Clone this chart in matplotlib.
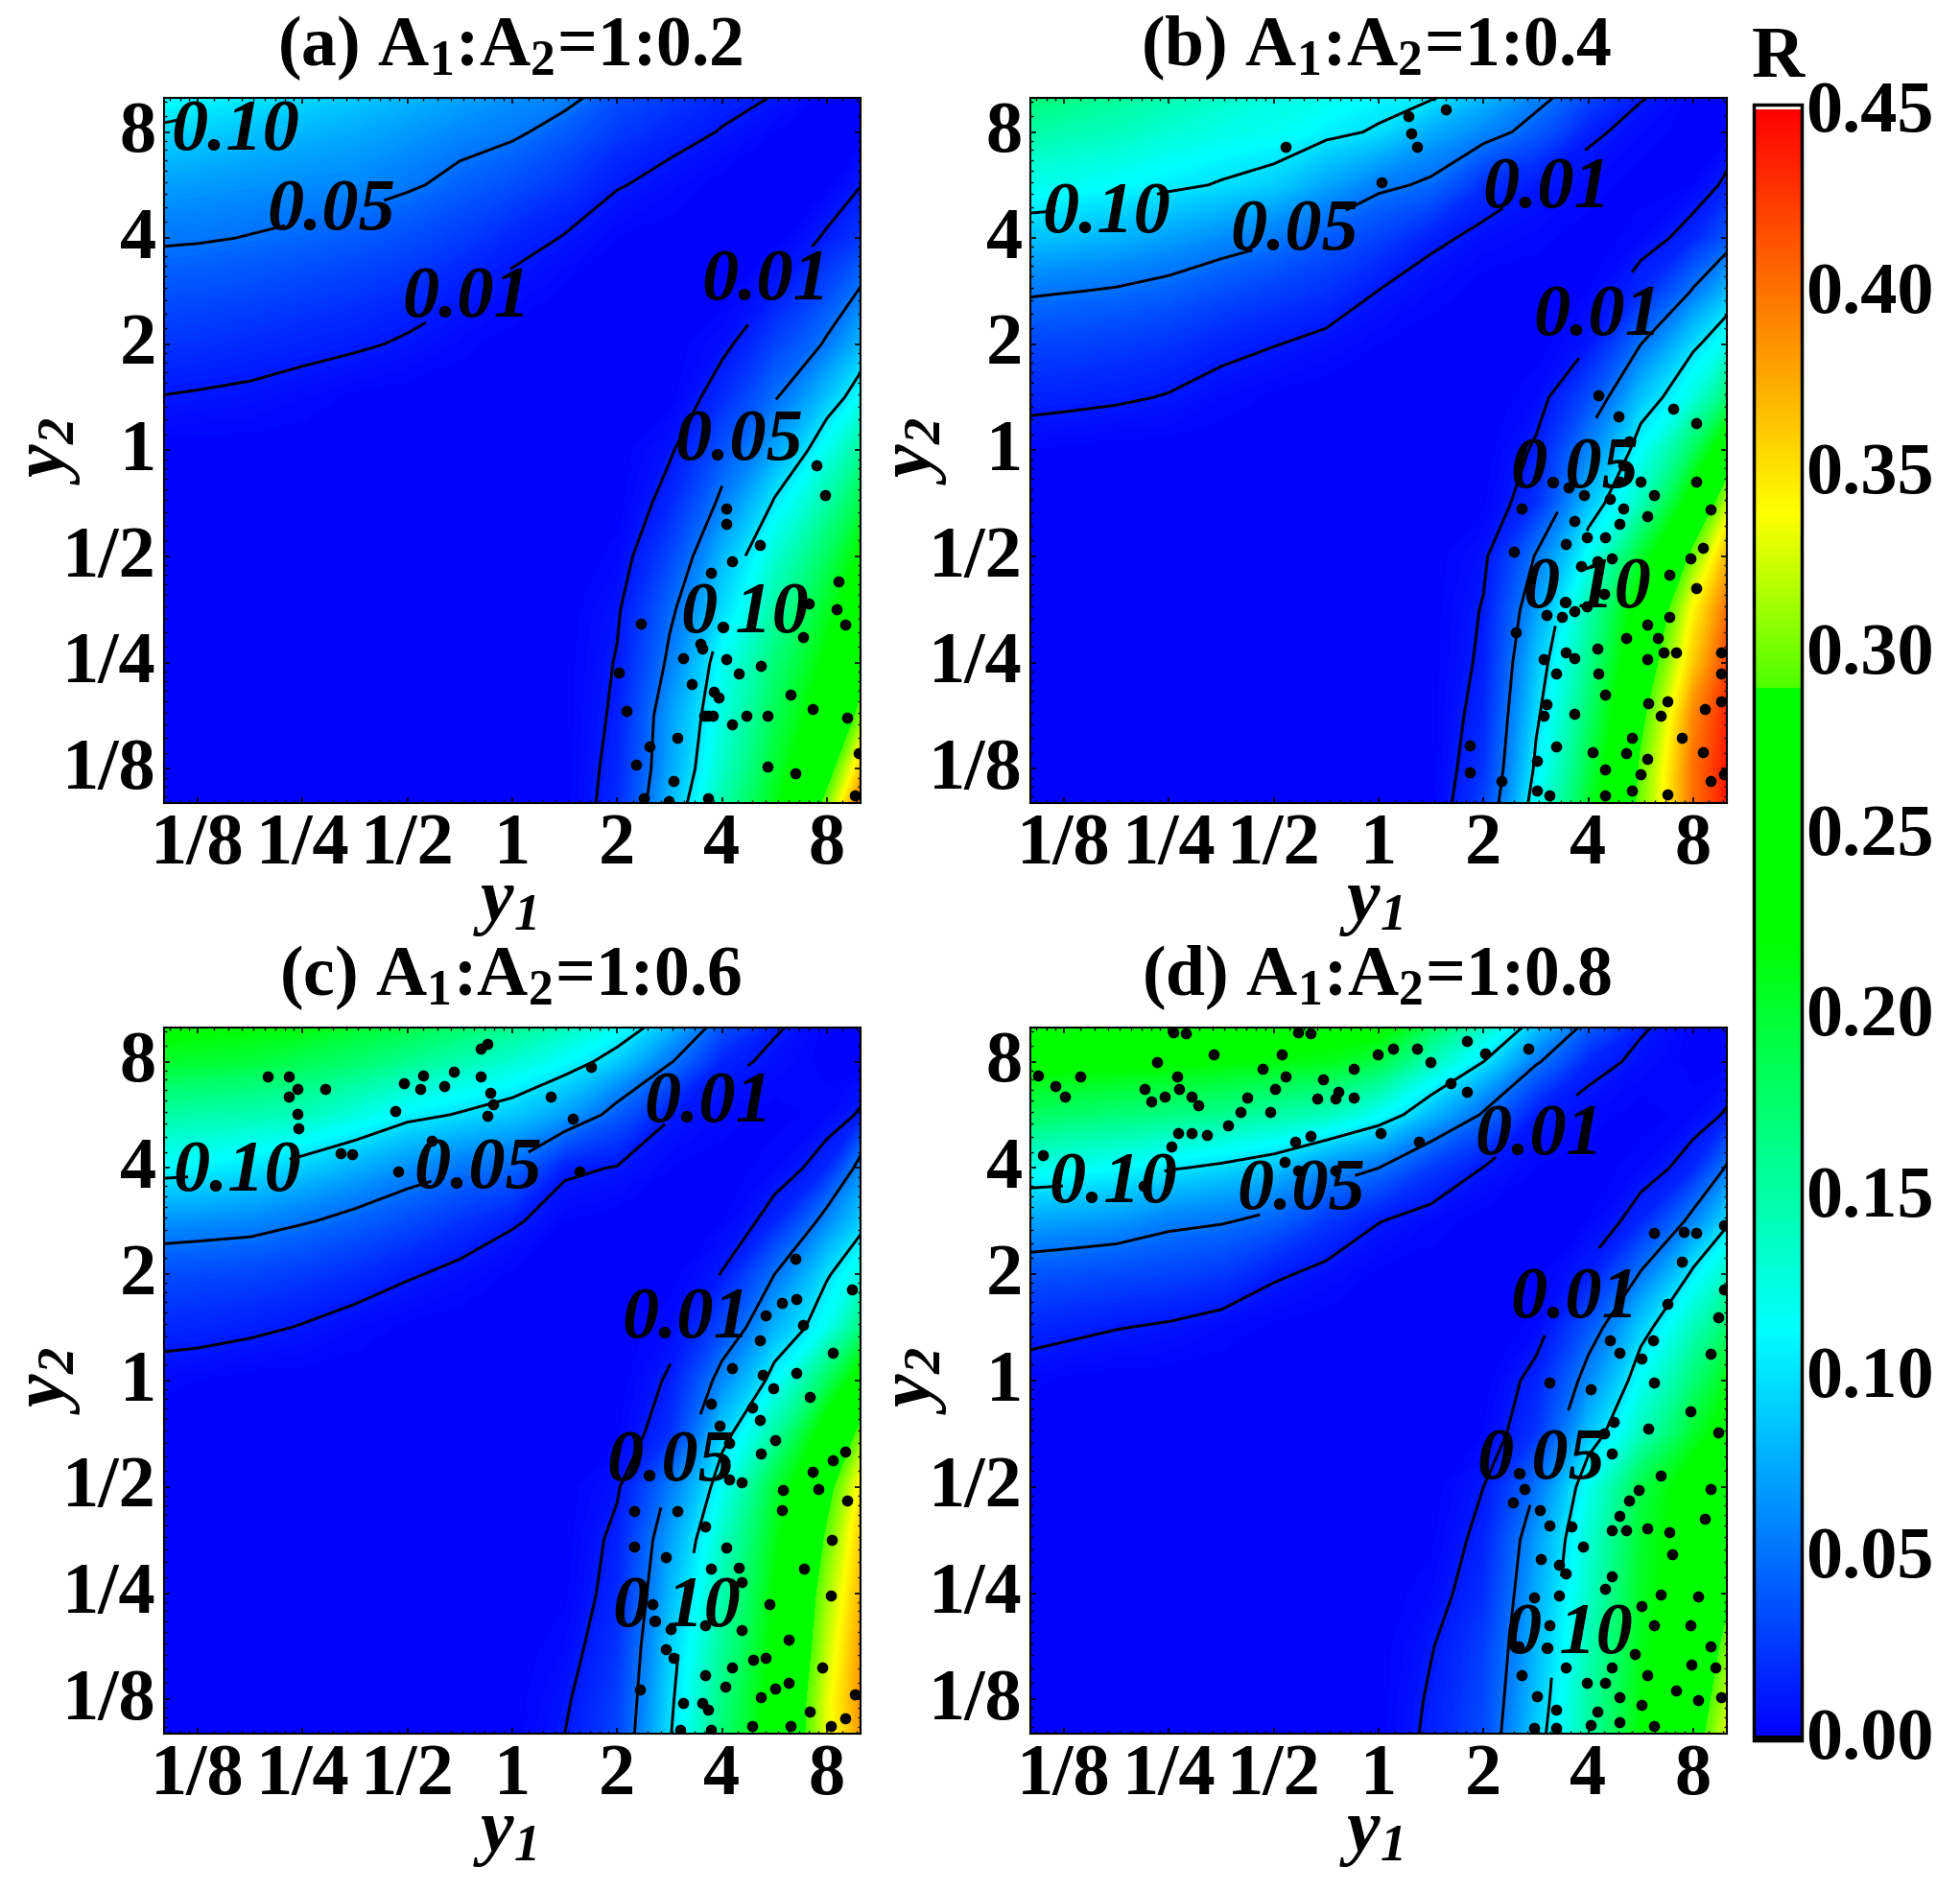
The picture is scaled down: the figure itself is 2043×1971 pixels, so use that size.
import numpy as np
import matplotlib
matplotlib.use('Agg')
import matplotlib.pyplot as plt
from matplotlib.colors import LinearSegmentedColormap, Normalize
from matplotlib.cm import ScalarMappable
from matplotlib.ticker import FixedLocator, FixedFormatter
from matplotlib.transforms import ScaledTranslation

plt.rcParams['font.family'] = ['Liberation Serif', 'DejaVu Serif']
plt.rcParams['font.weight'] = 'bold'
plt.rcParams['mathtext.default'] = 'regular'

# grid nodes (half octaves), same for y1 and y2
nodes = [0.1, 0.125, 0.177, 0.25, 0.354, 0.5, 0.707, 1, 1.414, 2, 2.83, 4, 5.66, 8, 10]

tick_vals = [1/8, 1/4, 1/2, 1, 2, 4, 8]
tick_text = ['1/8', '1/4', '1/2', '1', '2', '4', '8']
titles = ['(a) A$_1$:A$_2$=1:0.2', '(b) A$_1$:A$_2$=1:0.4', '(c) A$_1$:A$_2$=1:0.6', '(d) A$_1$:A$_2$=1:0.8']
levels = [0.01, 0.05, 0.10]

# R, rows go from y2=0.1 up to y2=10
R_a = [
 [0,0,0,0,0,0,0,0,0,.018,.08,.147,.21,.30,.40],
 [0,0,0,0,0,0,0,0,0,.016,.072,.135,.2,.27,.36],
 [0,0,0,0,0,0,0,0,0,.013,.069,.124,.185,.245,.30],
 [0,0,0,0,0,0,0,0,0,.011,.055,.116,.17,.225,.27],
 [0,0,0,0,0,0,0,0,0,.008,.045,.095,.15,.205,.25],
 [0,0,0,0,0,0,0,0,0,.003,.03,.08,.13,.18,.225],
 [0,0,0,0,0,0,0,0,0,0,.016,.056,.103,.15,.19],
 [0,0,0,0,0,0,0,0,0,0,.008,.035,.072,.119,.155],
 [.0095,.0085,.007,.004,.001,0,0,0,0,0,0,.018,.048,.085,.115],
 [.022,.021,.018,.015,.012,.008,.003,0,0,0,0,.006,.028,.053,.08],
 [.036,.035,.032,.028,.024,.019,.012,.006,.001,0,0,0,.01,.032,.052],
 [.053,.052,.049,.045,.04,.034,.026,.016,.009,.002,0,0,0,.012,.024],
 [.07,.068,.065,.062,.06,.053,.043,.034,.023,.011,.005,0,0,0,.0095],
 [.095,.092,.085,.08,.075,.068,.06,.054,.04,.025,.016,.009,.002,0,0],
 [.115,.11,.102,.095,.088,.08,.072,.064,.057,.035,.025,.016,.009,0,0],
]
R_b = [
 [0,0,0,0,0,0,0,0,0,.028,.115,.2,.3,.40,.44],
 [0,0,0,0,0,0,0,0,0,.022,.105,.19,.295,.40,.44],
 [0,0,0,0,0,0,0,0,0,.017,.095,.175,.28,.39,.435],
 [0,0,0,0,0,0,0,0,0,.013,.085,.16,.26,.36,.42],
 [0,0,0,0,0,0,0,0,0,.011,.07,.145,.24,.34,.40],
 [0,0,0,0,0,0,0,0,0,.007,.052,.115,.2,.30,.37],
 [0,0,0,0,0,0,0,0,0,.001,.02,.085,.14,.24,.32],
 [.002,.001,0,0,0,0,0,0,0,0,.012,.058,.113,.18,.25],
 [.015,.014,.012,.009,.004,.001,0,0,0,0,.004,.032,.085,.125,.17],
 [.03,.029,.026,.022,.015,.0105,.006,.002,0,0,0,.009,.05,.095,.12],
 [.053,.051,.048,.043,.034,.027,.021,.0097,.004,0,0,.002,.017,.052,.08],
 [.085,.083,.078,.07,.062,.053,.04,.028,.013,.006,.003,0,.004,.016,.037],
 [.12,.118,.112,.105,.098,.09,.072,.055,.046,.02,.01,.004,0,.002,.013],
 [.15,.145,.14,.13,.122,.118,.106,.097,.075,.06,.04,.013,.004,0,0],
 [.17,.165,.155,.145,.135,.125,.12,.11,.102,.08,.058,.03,.011,0,0],
]
R_c = [
 [0,0,0,0,0,0,0,0,.01,.03,.098,.17,.24,.33,.38],
 [0,0,0,0,0,0,0,0,.008,.027,.095,.165,.235,.33,.385],
 [0,0,0,0,0,0,0,0,.004,.022,.09,.155,.225,.32,.38],
 [0,0,0,0,0,0,0,0,.001,.017,.08,.145,.22,.31,.37],
 [0,0,0,0,0,0,0,0,0,.014,.07,.135,.21,.295,.36],
 [0,0,0,0,0,0,0,0,0,.008,.053,.115,.195,.275,.345],
 [0,0,0,0,0,0,0,0,0,.001,.02,.09,.15,.24,.30],
 [.003,.002,0,0,0,0,0,0,0,0,.012,.06,.11,.18,.24],
 [.017,.016,.013,.009,.004,.001,0,0,0,0,.004,.03,.078,.118,.165],
 [.033,.032,.03,.025,.019,.0115,.006,.001,0,0,0,.0105,.05,.097,.125],
 [.065,.063,.06,.052,.043,.033,.022,.012,.002,0,0,.002,.015,.06,.09],
 [.11,.108,.10,.09,.077,.063,.052,.045,.013,.009,.002,0,.004,.016,.06],
 [.15,.148,.145,.14,.125,.107,.098,.088,.07,.04,.011,.004,0,.004,.0115],
 [.2,.2,.195,.185,.175,.16,.145,.13,.112,.088,.052,.015,.006,0,0],
 [.23,.225,.22,.215,.2,.19,.175,.16,.14,.118,.08,.035,.012,0,0],
]
R_d = [
 [0,0,0,0,0,0,0,0,.0135,.033,.09,.15,.22,.27,.33],
 [0,0,0,0,0,0,0,0,.012,.031,.085,.15,.215,.26,.32],
 [0,0,0,0,0,0,0,0,.009,.027,.08,.143,.21,.255,.30],
 [0,0,0,0,0,0,0,0,.004,.02,.075,.135,.205,.25,.28],
 [0,0,0,0,0,0,0,0,.001,.015,.068,.13,.2,.25,.27],
 [0,0,0,0,0,0,0,0,0,.01,.05,.118,.19,.24,.26],
 [0,0,0,0,0,0,0,0,0,.002,.022,.085,.14,.2,.235],
 [.003,.001,0,0,0,0,0,0,0,0,.015,.06,.115,.17,.21],
 [.016,.014,.0105,.008,.004,.001,0,0,0,0,.003,.037,.09,.14,.175],
 [.037,.035,.032,.029,.024,.012,.006,.001,0,0,0,.012,.052,.105,.135],
 [.072,.07,.066,.056,.052,.043,.024,.0105,.004,0,0,.002,.016,.058,.095],
 [.12,.118,.112,.102,.095,.085,.063,.05,.025,.0095,.002,0,.004,.016,.053],
 [.18,.175,.17,.165,.16,.15,.14,.115,.08,.047,.012,.004,0,.004,.0115],
 [.23,.23,.23,.225,.22,.215,.21,.19,.14,.1,.053,.016,.006,0,0],
 [.25,.25,.25,.245,.245,.24,.235,.23,.18,.135,.085,.04,.012,0,0],
]

# contour label places as (level, log2 y1, log2 y2)
labels_a = [(.10,-2.64,3.05),(.05,-1.73,2.3),(.01,-.44,1.47),(.01,2.42,1.64),(.05,2.16,.13),(.10,2.22,-1.5)]
labels_b = [(.10,-2.6,2.27),(.05,-.8,2.11),(.01,1.6,2.5),(.01,2.09,1.3),(.05,1.87,-.14),(.10,1.99,-1.27)]
labels_c = [(.10,-2.62,2.0),(.05,-.33,2.03),(.01,1.87,2.65),(.01,1.66,.62),(.05,1.51,-.73),(.10,1.57,-2.1)]
labels_d = [(.10,-2.53,1.89),(.05,-.74,1.83),(.01,1.53,2.34),(.01,1.87,.81),(.05,1.55,-.71),(.10,1.81,-2.35)]

# small closed contours, (log2 y1, log2 y2)
blobs_a = [(2.90,-.14),(2.98,-.42),(2.04,-.55),(2.04,-.69),(2.36,-.89),(2.10,-1.04),(1.89,-1.15),(3.11,-1.23),
 (2.83,-1.44),(3.09,-1.50),(3.18,-1.64),(1.23,-1.63),(2.77,-1.76),(1.81,-1.87),(1.79,-1.82),(1.63,-1.96),
 (2.04,-1.97),(2.16,-2.10),(2.37,-2.03),(1.71,-2.20),(1.92,-2.27),(1.97,-2.33),(2.65,-2.30),(1.87,-2.50),
 (1.83,-2.50),(1.91,-2.50),(2.23,-2.50),(2.10,-2.58),(2.43,-2.50),(2.86,-2.44),(3.19,-2.52),(1.09,-2.45),
 (1.02,-2.09),(1.57,-2.71),(1.31,-2.79),(1.18,-2.96),(2.43,-2.98),(2.70,-3.04),(1.54,-3.11),(1.87,-3.28),
 (1.25,-3.28),(1.49,-3.30),(3.27,-3.25),(3.30,-2.85)]
blobs_b = [(-.89,2.86),(.28,3.15),(.31,2.99),(.37,2.86),(.64,3.21),(.03,2.53),(2.10,.52),(2.29,.32),(2.81,.39),
 (3.03,.26),(2.39,.09),(2.33,-.14),(2.30,-.29),(2.50,-.29),(2.63,-.42),(1.81,-.35),(1.96,-.42),(2.21,-.46),
 (2.33,-.55),(2.30,-.69),(2.56,-.62),(3.03,-.29),(3.17,-.56),(1.87,-.66),(1.36,-.55),(1.78,-.88),(1.99,-.82),
 (2.16,-.82),(1.29,-.95),(3.09,-.92),(1.93,-1.09),(2.09,-1.04),(2.22,-1.02),(2.97,-1.02),(2.77,-1.17),
 (3.03,-1.30),(2.15,-1.35),(1.60,-1.55),(1.75,-1.57),(1.87,-1.51),(1.99,-1.47),(2.56,-1.64),(2.77,-1.57),
 (2.36,-1.77),(2.66,-1.77),(1.31,-1.71),(2.09,-1.87),(1.78,-1.90),(1.87,-1.96),(1.57,-1.97),(2.56,-1.97),
 (2.84,-1.90),(2.72,-1.90),(3.27,-1.90),(3.27,-2.10),(1.69,-2.10),(2.10,-2.10),(2.16,-2.30),(1.60,-2.39),
 (1.87,-2.48),(1.57,-2.50),(2.57,-2.38),(2.75,-2.36),(3.11,-2.44),(2.69,-2.50),(3.27,-2.36),(2.42,-2.71),
 (2.89,-2.71),(1.69,-2.79),(2.04,-2.84),(2.36,-2.85),(3.09,-2.84),(.87,-2.78),(.87,-3.03),(1.51,-2.92),
 (2.16,-3.01),(2.56,-2.91),(2.50,-3.05),(3.17,-3.11),(3.29,-3.05),(1.17,-3.11),(1.51,-3.20),(1.63,-3.25),
 (2.16,-3.25),(2.42,-3.20),(2.75,-3.24)]
blobs_c = [(-.24,3.17),(-.30,3.12),(-2.33,2.86),(-2.13,2.86),(-2.05,2.74),(-2.13,2.67),(-2.05,2.51),(-2.04,2.37),
 (-1.78,2.74),(-1.03,2.80),(-.85,2.87),(-.88,2.74),(-.56,2.91),(-.65,2.77),(-1.12,2.54),(-.30,2.86),(-.21,2.71),
 (-.18,2.60),(-.24,2.49),(.37,2.67),(.58,2.46),(.75,2.95),(.64,1.97),(-1.64,2.14),(-1.53,2.13),(-1.09,1.97),
 (-.77,2.26),(2.70,1.15),(3.24,.86),(2.57,.73),(2.71,.77),(2.42,.61),(2.77,.52),(3.06,.26),(2.36,.38),(2.10,.12),
 (2.39,.05),(2.49,-.07),(2.71,.07),(2.84,-.15),(1.89,-.22),(2.29,-.25),(2.36,-.37),(1.98,-.42),(2.51,-.56),
 (2.07,-.59),(2.37,-.69),(3.18,-.67),(3.06,-.75),(2.86,-.86),(2.92,-1.02),(2.07,-.93),(2.19,-.96),(2.58,-1.03),
 (1.16,-1.23),(1.57,-1.23),(1.84,-1.37),(2.57,-1.22),(3.19,-1.13),(3.05,-1.50),(1.16,-1.56),(1.46,-1.66),
 (2.04,-1.57),(2.16,-1.76),(1.89,-1.77),(2.78,-1.77),(3.04,-2.02),(2.45,-2.10),(2.19,-1.90),(1.84,-2.30),
 (1.34,-2.10),(1.51,-2.34),(2.19,-2.35),(2.64,-2.44),(1.46,-2.53),(1.54,-2.61),(2.10,-2.70),(2.30,-2.63),
 (2.42,-2.61),(2.96,-2.70),(1.84,-2.77),(2.03,-2.88),(2.64,-2.84),(2.51,-2.90),(2.37,-2.98),(1.63,-3.03),
 (1.81,-3.03),(1.87,-3.10),(2.84,-3.11),(3.27,-2.95),(3.18,-3.18),(3.04,-3.25),(2.29,-3.25),(2.65,-3.25),
 (1.60,-3.29),(1.89,-3.29),(1.22,-2.91)]
blobs_d = [(-1.96,3.28),(-1.84,3.27),(-.77,3.28),(-.65,3.27),(.84,3.20),(1.02,3.08),(1.43,3.12),(.14,3.12),(.37,3.12),
 (-.01,3.07),(.49,3.00),(-1.57,3.07),(-.92,3.07),(-2.11,3.00),(-.24,2.93),(-1.11,2.93),(-3.25,2.87),(-2.85,2.86),
 (-3.08,2.77),(-2.99,2.67),(-1.92,2.86),(-.89,2.86),(-.53,2.83),(-2.23,2.74),(-1.90,2.74),(-.99,2.74),(-.38,2.72),
 (.69,2.80),(.84,2.72),(-2.17,2.63),(-2.04,2.67),(-1.78,2.67),(-1.72,2.59),(-1.25,2.66),(-.59,2.65),(-.41,2.65),
 (-.24,2.66),(-1.32,2.53),(-1.03,2.53),(-1.44,2.40),(-1.91,2.33),(-1.78,2.33),(-1.64,2.31),(-1.98,2.20),(.02,2.33),
 (-.80,2.25),(-.65,2.30),(.38,2.25),(-3.20,2.12),(-.90,2.06),(-.41,1.98),(-.77,1.98),(-2.24,1.83),
 (2.91,1.40),(3.03,1.39),(3.29,1.46),(2.63,1.39),(2.89,1.12),(3.29,.86),(3.24,.60),(2.75,.72),(2.21,.38),(2.62,.38),
 (2.30,.26),(3.17,.25),(2.51,.21),(2.63,-.02),(2.02,-.08),(1.63,-.02),(2.97,-.29),(2.24,-.39),(2.57,-.45),(2.15,-.50),
 (2.22,-.69),(3.24,-.49),(2.69,-.89),(3.17,-1.02),(1.39,-1.02),(1.28,-1.15),(2.48,-1.03),(2.39,-1.13),(2.30,-1.27),
 (1.54,-1.22),(1.63,-1.36),(1.84,-1.37),(1.95,-1.56),(2.56,-1.39),(2.22,-1.41),(2.36,-1.41),(2.77,-1.43),(3.11,-1.30),
 (2.80,-1.63),(1.55,-1.68),(1.72,-1.73),(1.78,-1.81),(2.22,-1.84),(2.16,-1.96),(1.48,-2.04),(1.72,-2.02),(2.69,-2.01),
 (3.05,-2.03),(2.51,-2.12),(2.63,-2.30),(1.34,-2.50),(1.63,-2.30),(2.97,-2.30),(3.17,-2.50),(1.78,-2.70),(2.22,-2.70),
 (2.44,-2.57),(2.98,-2.67),(3.21,-2.70),(1.36,-2.77),(1.99,-2.84),(2.16,-2.84),(2.56,-2.77),(1.51,-2.97),(2.30,-2.98),
 (2.84,-2.92),(3.05,-3.01),(2.51,-3.05),(3.27,-2.98),(1.69,-3.10),(2.09,-3.11),(2.30,-3.21),(2.02,-3.24),(2.63,-3.25),
 (1.48,-3.27),(1.69,-3.27)]

# colour scale, with the step at 0.29
cmap = LinearSegmentedColormap.from_list('rscale', [
    (0, (0, 0, 1)), (.112/.45, (0, 1, 1)), (.22/.45, (0, 1, 0)), (.29/.45, (0, 1, 0)),
    (.2901/.45, (.3, 1, 0)), (.338/.45, (1, 1, 0)), (1, (1, 0, 0))], N=900)
cmap.set_over('white')
cmap.set_under('black')
norm = Normalize(0, 0.45)

W, H = 2043, 1971
fig = plt.figure(figsize=(W/100, H/100), dpi=100)


def rect(x0, y0, x1, y1):
    return [x0/W, 1 - y1/H, (x1 - x0)/W, (y1 - y0)/H]


def shift_up(label, px):
    label.set_transform(label.get_transform() + ScaledTranslation(0, px/100, fig.dpi_scale_trans))


boxes = [(171, 102, 897, 837), (1074, 102, 1800, 837), (171, 1071, 897, 1807), (1074, 1071, 1800, 1807)]
fields = [R_a, R_b, R_c, R_d]
all_labels = [labels_a, labels_b, labels_c, labels_d]
all_blobs = [blobs_a, blobs_b, blobs_c, blobs_d]

minor = [b*(1 + k/9) for b in [1/16, 1/8, 1/4, 1/2, 1, 2, 4, 8] for k in range(1, 9)]
minor = [m for m in minor if 0.1 < m < 10 and m not in tick_vals]

for box, R, labs, blobs, title in zip(boxes, fields, all_labels, all_blobs, titles):
    ax = fig.add_axes(rect(*box))
    ax.set_facecolor((0, 0, 1))
    ax.set_xscale('log')
    ax.set_yscale('log')
    R = np.array(R)
    ax.contourf(nodes, nodes, R, levels=np.linspace(0, 0.45, 226), cmap=cmap, norm=norm)
    for lev in levels:
        pts = [(2**x, 2**y) for l, x, y in labs if l == lev]
        cs = ax.contour(nodes, nodes, R, levels=[lev], colors='k', linewidths=2.1)
        txt = cs.clabel(manual=pts, inline=True, fontsize=42, fmt='%.2f', inline_spacing=2)
        for t, p in zip(txt, pts):
            t.set_position(p)
            t.set_rotation(0)
            t.set_fontsize(55)
            t.set_fontstyle('italic')
            t.set_fontweight('bold')
            t.set_color('k')
            shift_up(t, -5)
    bx, by = zip(*blobs)
    ax.scatter(2**np.array(bx), 2**np.array(by), s=70, c='k', linewidths=0, zorder=3)
    ax.set_xlim(0.1, 10)
    ax.set_ylim(0.1, 10)
    for axis in (ax.xaxis, ax.yaxis):
        axis.set_major_locator(FixedLocator(tick_vals))
        axis.set_major_formatter(FixedFormatter(tick_text))
        axis.set_minor_locator(FixedLocator(minor))
        axis.set_minor_formatter(FixedFormatter([]))
    ax.tick_params(which='major', direction='in', length=4, width=1.2, top=True, right=True, labelsize=55)
    ax.tick_params(which='minor', direction='in', length=2.2, width=1, top=True, right=True)
    ax.tick_params(axis='x', which='major', pad=7)
    ax.tick_params(axis='y', which='major', pad=6)
    for lb in ax.get_yticklabels():
        shift_up(lb, 6)
    for s in ax.spines.values():
        s.set_linewidth(1.5)
    ax.set_title(title, fontsize=53, fontweight='bold', pad=24, x=0.497)
    ax.set_xlabel('$y_1$', fontsize=56, fontstyle='italic', fontweight='bold')
    ax.set_ylabel('$y_2$', fontsize=56, fontstyle='italic', fontweight='bold')
    ax.xaxis.set_label_coords(0.49, -0.095)
    ax.yaxis.set_label_coords(-0.117, 0.5)

cax = fig.add_axes(rect(1828, 109, 1878, 1814))
sm = ScalarMappable(norm=norm, cmap=cmap)
cb = fig.colorbar(sm, cax=cax, extend='both', extendfrac=0.0027, extendrect=True)
cb.set_ticks(np.arange(0, 0.451, 0.05))
cb.set_ticklabels(['%.2f' % v for v in np.arange(0, 0.451, 0.05)])
cb.ax.tick_params(length=0, labelsize=55, pad=3)
for lb in cb.ax.get_yticklabels():
    shift_up(lb, 3)
cb.outline.set_linewidth(2.5)
fig.text(1826/W, 1 - 80/H, 'R', fontsize=55, fontweight='bold', ha='left', va='baseline')

fig.savefig('out.png', dpi=100)
